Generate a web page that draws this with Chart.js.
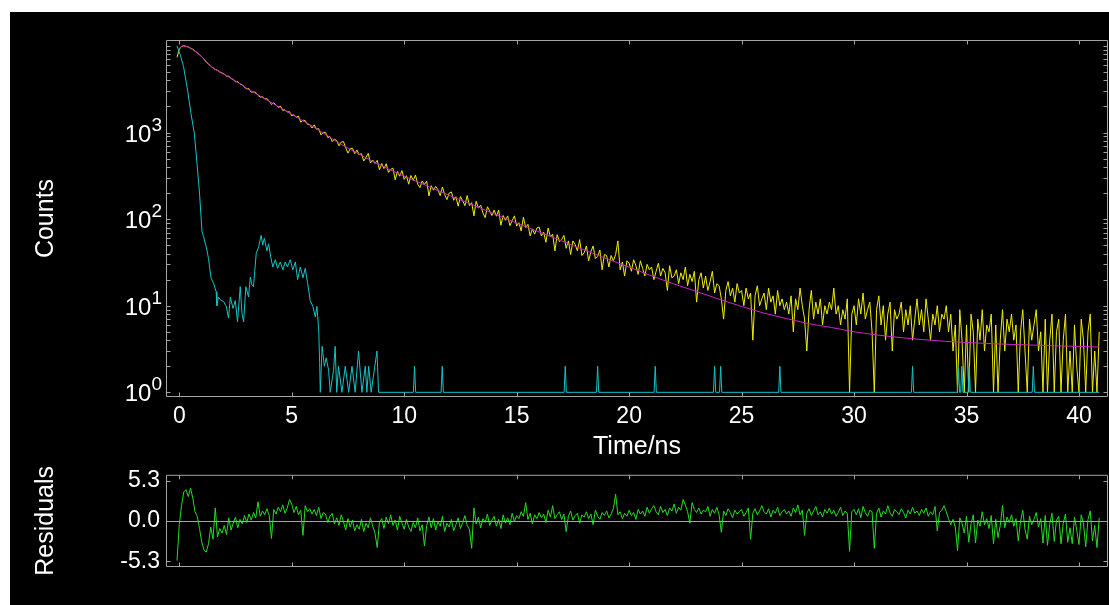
<!DOCTYPE html>
<html>
<head>
<meta charset="utf-8">
<script src="https://cdn.jsdelivr.net/npm/chart.js@4.4.1/dist/chart.umd.min.js"></script>
<style>
  html, body { margin: 0; padding: 0; background: #fff; }
  #panel { position: absolute; left: 10px; top: 12px; width: 1099px; height: 593px; background: #000; overflow: hidden; }
  #decay { position: absolute; left: 0; top: 0; }
  #resid { position: absolute; left: 0; top: 443px; }
</style>
</head>
<body>
<div id="panel">
  <canvas id="decay" width="1099" height="470" style="width:1099px;height:470px"></canvas>
  <canvas id="resid" width="1099" height="150" style="width:1099px;height:150px"></canvas>
</div>
<script>
// decay histogram, one row per ns (channel width 0.1 ns, first channel at -0.1 ns)
const decayCounts = [7400,
  9150, 9870, 10040, 9890, 9720, 9400, 9120, 8720, 8350, 7930,
  7480, 7050, 6490, 6210, 5820, 5590, 5340, 5230, 4990, 4870,
  4727, 4458, 4476, 4205, 4096, 3845, 3868, 3631, 3562, 3319,
  3191, 3208, 2922, 2949, 2905, 2686, 2564, 2591, 2438, 2453,
  2314, 2107, 2207, 2077, 1951, 2017, 1793, 1832, 1722, 1739,
  1554, 1607, 1496, 1545, 1315, 1390, 1373, 1241, 1236, 1126,
  1226, 1090, 1109, 939, 1001, 1002, 875, 899, 786, 842,
  802, 701, 776, 785, 666, 578, 649, 659, 571, 629,
  553, 571, 469, 515, 574, 445, 480, 440, 477, 371,
  438, 383, 436, 346, 376, 388, 284, 355, 313, 363,
  288, 317, 253, 319, 280, 323, 253, 231, 276, 251,
  275, 185, 243, 216, 239, 218, 187, 235, 192, 168,
  200, 206, 165, 181, 141, 182, 163, 143, 187, 143,
  155, 109, 161, 134, 145, 118, 104, 139, 124, 110,
  127, 108, 127, 85, 110, 97, 109, 84, 96, 109,
  83, 91, 73, 105, 80, 87, 64, 77, 67, 79,
  81, 64, 71, 54, 79, 62, 67, 43, 66, 55,
  58, 65, 46, 56, 39, 56, 51, 43, 58, 38,
  41, 49, 33, 42, 49, 35, 37, 44, 26, 39,
  38, 28, 38, 33, 39, 56, 26, 32, 22, 33,
  31, 25, 34, 29, 23, 33, 27, 22, 30, 26,
  28, 20, 25, 31, 22, 27, 24, 15, 29, 21,
  22, 26, 18, 24, 20, 28, 17, 23, 19, 25,
  11, 20, 24, 16, 22, 15, 19, 25, 14, 18,
  17, 12, 7, 15, 19, 13, 16, 11, 18, 14,
  15, 10, 16, 12, 14, 4, 13, 17, 10, 12,
  14, 9, 16, 11, 13, 8, 15, 10, 12, 9,
  11, 8, 13, 5, 12, 9, 16, 10, 7, 3,
  9, 15, 7, 11, 8, 12, 6, 10, 8, 11,
  9, 16, 8, 10, 6, 9, 7, 12, 1, 8,
  10, 6, 12, 8, 14, 7, 9, 11, 5, 1,
  9, 13, 6, 10, 4, 8, 11, 3, 9, 7,
  8, 11, 5, 9, 6, 10, 4, 7, 12, 6,
  9, 5, 12, 7, 4, 8, 6, 10, 5, 8,
  7, 10, 5, 8, 3, 6, 1, 9, 4, 1,
  6, 1, 8, 5, 1, 7, 4, 9, 3, 6,
  5, 8, 1, 6, 1, 4, 9, 3, 7, 5,
  8, 4, 6, 1, 5, 9, 3, 1, 7, 4,
  6, 9, 3, 5, 1, 7, 1, 4, 8, 1,
  5, 7, 1, 4, 8, 1, 3, 1, 6, 2,
  1, 7, 4, 1, 5, 8, 1, 3, 1, 5]

// weighted residuals on the same channels
const residuals = [-5.2,
  -0.5, 2.0, 3.8, 4.1, 3.2, 4.3, 3.0, 1.2, 0.6, -1.0,
  -2.8, -3.8, -4.1, -3.0, -0.8, -2.4, 1.7, -2.1, -1.0, -1.6,
  -0.6, -1.8, 0.4, -1.2, -0.3, 0.5, -0.9, 0.2, -0.4, 0.7,
  -0.2, 0.9, 0.1, 1.1, 0.4, 2.5, 0.6, 1.3, 0.8, 1.6,
  0.7, -2.3, 1.5, 0.9, 1.8, 1.2, 2.1, 1.0, 1.7, 2.8,
  2.2, 1.1, 1.9, 0.8, 1.4, -1.9, 2.0, 1.2, 1.6, 0.9,
  1.5, 0.7, 1.8, 0.3, 1.1, 0.9, -0.2, 0.6, 1.0, -0.4,
  0.4, -0.6, 0.8, -0.1, -1.2, 0.3, -0.8, 0.1, -1.3, -0.5,
  -1.1, 0.2, -1.4, -0.3, -0.9, 0.4, -0.7, -1.6, -3.5, -0.2,
  0.3, -1.0, 0.5, -0.4, 0.8, -0.6, 0.1, -1.2, 0.6, -0.3,
  -1.1, 0.2, -0.8, -1.4, -0.2, -0.9, 0.4, -1.3, -0.5, -3.3,
  -0.6, 0.5, -0.9, 0.3, -1.2, -0.1, -0.7, 0.6, -1.4, -0.3,
  -0.8, 0.2, -1.3, -0.5, 0.4, -1.0, -0.2, 0.7, -0.6, -1.1,
  -3.6, 1.7, -0.4, 0.5, -0.9, 0.3, -0.2, 0.9, -0.6, 0.1,
  0.6, -0.7, 0.2, -1.0, 0.8, -0.3, 0.4, -0.5, 1.0, -0.1,
  0.7, 0.3, 1.2, 0.6, 2.4, 0.2, 1.0, -0.4, 0.8, 0.3,
  1.1, 0.4, 0.9, -0.2, 1.4, 0.5, 2.0, 0.3, 0.8, 1.2,
  0.2, 0.9, -1.4, 0.6, 1.3, 0.1, 0.7, 1.0, -0.3, 0.8,
  0.5, 1.2, 0.3, 0.9, -0.5, 1.4, 0.6, 0.2, 1.1, 0.7,
  1.3, 0.4, 0.9, 1.6, 3.5, 0.8, 1.2, 0.3, 1.0, 0.6,
  1.4, 0.7, 1.1, 0.2, 1.5, 0.9, 1.3, 0.6, 1.8, 1.0,
  1.6, 2.0, 1.2, 0.8, 1.9, 1.1, 1.5, 0.7, 1.7, 1.3,
  2.2, 1.0, 1.8, 1.4, 2.8, 2.1, 1.2, -0.3, 2.4, 1.5,
  1.1, 1.7, 0.9, 1.4, 1.2, 1.9, 0.6, 1.5, 1.0, 1.8,
  0.8, -1.5, 1.3, 0.7, 1.6, 1.1, 0.4, 1.4, 0.9, 1.2,
  1.5, 0.6, 1.1, 1.7, -2.4, 1.0, 1.6, 0.8, 1.3, 2.0,
  1.2, 0.9, 1.6, 0.5, 1.4, 1.0, 1.8, 0.7, 1.2, 1.5,
  0.9, 1.3, 0.6, 1.7, 1.1, 2.1, 0.8, 1.4, -1.9, 1.0,
  1.6, 0.7, 1.3, 1.9, 0.8, 1.2, 0.5, 1.5, 1.0, 1.7,
  0.9, 1.4, 0.6, 1.1, 1.8, 0.7, 1.3, 1.0, -4.0, 1.2,
  1.5, 0.8, 1.6, 0.4, 1.9, 1.1, 0.6, 1.4, 1.2, -3.6,
  1.0, 1.7, 0.5, 1.3, 0.9, 2.0, 1.1, 0.6, 1.5, 1.2,
  0.8, 1.6, 1.1, 0.4, 1.4, 0.9, 1.8, 1.0, 1.3, 0.7,
  1.5, 1.0, 1.7, 0.6, 1.2, 0.8, 1.9, -1.3, 1.1, 1.4,
  2.0, 1.2, 0.3, -0.5, 0.2, -0.8, -3.9, 0.4, -0.3, -1.6,
  0.6, -2.8, -0.4, 0.8, -2.9, 0.1, -0.7, 1.2, -0.5, 0.3,
  -1.0, 0.7, -3.0, 0.2, -2.2, -0.6, 2.0, -0.9, 0.5, -0.2,
  0.8, -0.7, 0.3, -2.6, -0.1, 1.4, -1.1, -2.4, 0.6, -0.5,
  0.2, 1.1, -0.8, 0.3, -2.9, 0.7, -3.2, -0.4, 1.0, -2.7,
  0.1, 0.6, -3.0, -0.3, 0.9, -2.8, -0.9, -3.0, 0.5, -1.2,
  -3.1, 0.8, -0.4, -3.4, 0.2, 1.3, -2.6, -0.6, -3.5, 0.4]

// instrument response, sampled where the trace changes
const irfTime = [-0.1, 0.05, 0.19, 0.37, 0.52, 0.67, 0.79, 0.9, 1.01, 1.08,
  1.23, 1.3, 1.41, 1.53, 1.64, 1.67, 1.74, 1.85, 1.97, 2.09,
  2.19, 2.27, 2.39, 2.49, 2.59, 2.71, 2.79, 2.86, 2.96, 3.08,
  3.16, 3.23, 3.3, 3.42, 3.53, 3.64, 3.71, 3.78, 3.9, 3.97,
  4.07, 4.16, 4.27, 4.37, 4.49, 4.61, 4.71, 4.81, 4.93, 5.05,
  5.16, 5.26, 5.38, 5.5, 5.6, 5.71, 5.82, 5.94, 6.05, 6.12,
  6.2, 6.24, 6.27, 6.35, 6.45, 6.53, 6.64, 6.71, 6.86, 6.93,
  7.0, 7.08, 7.23, 7.38, 7.53, 7.68, 7.82, 7.97, 8.12, 8.27,
  8.34, 8.42, 8.53, 8.79, 8.86,
  10.41, 10.46, 10.51, 11.64, 11.69, 11.74, 17.11, 17.16, 17.21,
  18.55, 18.6, 18.65, 21.11, 21.16, 21.21, 23.75, 23.8, 23.85,
  24.02, 24.07, 24.12, 26.65, 26.7, 26.75, 32.55, 32.6, 32.65,
  34.59, 34.64, 34.69, 34.74, 34.79, 34.84, 35.07, 35.12, 35.17,
  37.92, 37.97, 38.02, 40.9]
const irfCounts = [10000, 7800, 5750, 3090, 1660, 980, 437, 200, 72, 63,
  44, 35, 21, 18, 14.5, 10, 12.6, 11.5, 11.2, 9.8,
  7.2, 12.6, 9.3, 11.5, 6.5, 16.6, 8.1, 6.5, 16.6, 12.6,
  21.4, 17.4, 16.6, 40, 48, 65, 50, 60, 43, 52,
  36, 28, 34, 27, 32, 26, 32, 28, 34, 26,
  32, 20, 28, 21, 27, 18, 11.5, 9.8, 7.4, 9.8,
  5.2, 2.2, 1, 3.4, 2, 2.5, 1.8, 1, 1.8, 3.4,
  1, 2, 1, 2, 1, 2, 1, 3, 1, 2,
  1, 2, 1, 3, 1,
  1, 2, 1, 1, 2, 1, 1, 2, 1,
  1, 2, 1, 1, 2, 1, 1, 2, 1,
  1, 2, 1, 1, 2, 1, 1, 2, 1,
  1, 2, 1, 1, 2, 1, 1, 2, 1,
  1, 2, 1, 1]

// fitted decay curve
const fitTime = [0, 0.1, 0.2, 0.3, 0.5, 0.8, 1, 1.2, 1.5, 2, 2.5, 3, 3.5, 4, 4.5, 5, 5.5, 6, 6.5, 7,
  7.5, 8, 8.5, 9, 9.5, 10, 11, 12, 13, 14, 15, 16, 17, 18, 19, 20, 21, 22, 23, 24,
  25, 26, 27, 28, 29, 30, 31, 32, 33, 34, 35, 36, 37, 38, 39, 40, 40.9]
const fitCounts = [9400, 9850, 10000, 9900, 9440, 8320, 7500, 6530, 5560, 4680, 3940, 3240, 2720, 2290, 1930, 1620, 1365, 1150, 950, 785,
  661, 562, 479, 412, 359, 313, 243, 188, 148, 115, 90, 71, 56, 44, 35, 27.9, 22.1, 17.8, 14.6, 11.9,
  9.8, 8.2, 7.1, 6.2, 5.6, 5.0, 4.6, 4.3, 4.07, 3.89, 3.76, 3.66, 3.57, 3.51, 3.44, 3.39, 3.33]

const timeTicks = [0, 5, 10, 15, 20, 25, 30, 35, 40]
const countDecades = [0, 1, 2, 3]
const residualTicks = [-5.3, 0, 5.3]

const firstChannel = -0.1
const channelWidth = 0.1
const channelTimes = decayCounts.map((_, i) => Math.round((firstChannel + i * channelWidth) * 100) / 100)

const FONT = '"Liberation Sans", Arial, sans-serif'
const FRAME = '#a4a4a4'
const T_MIN = -0.59, T_MAX = 41.29

Chart.defaults.font.family = FONT

function toPoints(xs, ys) {
  return xs.map((x, i) => ({ x, y: ys[i] }))
}

// log minor tick values 1..9 x 10^k inside the count range
const countMinorTicks = []
for (let k = 0; k <= 4; k++) {
  for (let m = 1; m <= 9; m++) countMinorTicks.push(m * Math.pow(10, k))
}

// box around the plot area with inward tick marks on all four sides
const frameTicks = {
  id: 'frameTicks',
  afterDatasetsDraw(chart, args, opts) {
    const { ctx, chartArea: a, scales: { x, y } } = chart
    const L = a.left + 0.5, R = a.right - 0.5, T = a.top + 0.5, B = a.bottom - 0.5
    ctx.save()
    ctx.strokeStyle = FRAME
    ctx.lineWidth = 1
    ctx.beginPath()
    ctx.rect(L, T, R - L, B - T)
    for (const v of timeTicks) {
      const px = Math.round(x.getPixelForValue(v)) + 0.5
      ctx.moveTo(px, B); ctx.lineTo(px, B - 4)
      ctx.moveTo(px, T); ctx.lineTo(px, T + 4)
    }
    for (const v of opts.yTicks) {
      if (v < y.min || v > y.max) continue
      const py = Math.round(y.getPixelForValue(v)) + 0.5
      ctx.moveTo(L, py); ctx.lineTo(L + 4, py)
      ctx.moveTo(R, py); ctx.lineTo(R - 4, py)
    }
    if (opts.zeroLine) {
      const pz = Math.round(y.getPixelForValue(0)) + 0.5
      ctx.moveTo(L, pz); ctx.lineTo(R, pz)
    }
    ctx.stroke()
    ctx.restore()
  }
}

// "10" with a raised exponent at each decade
const powerLabels = {
  id: 'powerLabels',
  afterDraw(chart) {
    const { ctx, scales: { y } } = chart
    ctx.save()
    ctx.fillStyle = '#fff'
    ctx.textAlign = 'right'
    ctx.textBaseline = 'alphabetic'
    for (const p of countDecades) {
      const py = y.getPixelForValue(Math.pow(10, p))
      const right = y.right - 4
      ctx.font = '19px ' + FONT
      const supW = ctx.measureText(String(p)).width
      ctx.fillText(String(p), right, py - 2)
      ctx.font = '24px ' + FONT
      ctx.fillText('10', right - supW, py + 9)
    }
    ctx.restore()
  }
}

const lineStyle = { borderWidth: 1, pointRadius: 0, tension: 0, fill: false }

new Chart(document.getElementById('decay'), {
  type: 'line',
  data: {
    datasets: [
      { label: 'Fit', data: toPoints(fitTime, fitCounts), borderColor: '#cc22cc', order: 0, ...lineStyle },
      { label: 'IRF', data: toPoints(irfTime, irfCounts), borderColor: '#12c4c4', order: 1, ...lineStyle },
      { label: 'Decay', data: toPoints(channelTimes, decayCounts), borderColor: '#eeee00', order: 2, ...lineStyle }
    ]
  },
  options: {
    responsive: false,
    animation: false,
    layout: { padding: { top: 28, right: 1, left: 0, bottom: 0 } },
    plugins: {
      legend: { display: false },
      tooltip: { enabled: false },
      frameTicks: { yTicks: countMinorTicks, zeroLine: false }
    },
    scales: {
      x: {
        type: 'linear', min: T_MIN, max: T_MAX,
        afterBuildTicks: s => { s.ticks = timeTicks.map(v => ({ value: v })) },
        afterFit: s => { s.height = 85 },
        ticks: { color: '#fff', font: { size: 23 }, padding: 6, maxRotation: 0, autoSkip: false },
        grid: { display: false, drawTicks: false },
        border: { display: false },
        title: { display: true, text: 'Time/ns', color: '#fff', font: { size: 25 }, padding: { top: 0, bottom: 20 } }
      },
      y: {
        type: 'logarithmic', min: 0.883, max: 11700,
        afterFit: s => { s.width = 156 },
        ticks: { display: false },
        grid: { display: false, drawTicks: false },
        border: { display: false },
        title: { display: true, text: 'Counts', color: '#fff', font: { size: 25 }, padding: { top: 21, bottom: 0 } }
      }
    }
  },
  plugins: [frameTicks, powerLabels]
})

new Chart(document.getElementById('resid'), {
  type: 'line',
  data: {
    datasets: [
      { label: 'Residuals', data: toPoints(channelTimes, residuals), borderColor: '#22dd22', ...lineStyle }
    ]
  },
  options: {
    responsive: false,
    animation: false,
    layout: { padding: { top: 13, right: 1, left: 0, bottom: 0 } },
    plugins: {
      legend: { display: false },
      tooltip: { enabled: false },
      frameTicks: { yTicks: residualTicks, zeroLine: true }
    },
    scales: {
      x: {
        type: 'linear', min: T_MIN, max: T_MAX,
        afterBuildTicks: s => { s.ticks = timeTicks.map(v => ({ value: v })) },
        afterFit: s => { s.height = 38 },
        ticks: { display: false },
        grid: { display: false, drawTicks: false },
        border: { display: false }
      },
      y: {
        type: 'linear', min: -6.05, max: 6.05,
        afterBuildTicks: s => { s.ticks = residualTicks.map(v => ({ value: v })) },
        afterFit: s => { s.width = 156 },
        ticks: { color: '#fff', font: { size: 23 }, padding: 6, callback: v => v.toFixed(1) },
        grid: { display: false, drawTicks: false },
        border: { display: false },
        title: { display: true, text: 'Residuals', color: '#fff', font: { size: 25 }, padding: { top: 21, bottom: 0 } }
      }
    }
  },
  plugins: [frameTicks]
})
</script>
</body>
</html>
